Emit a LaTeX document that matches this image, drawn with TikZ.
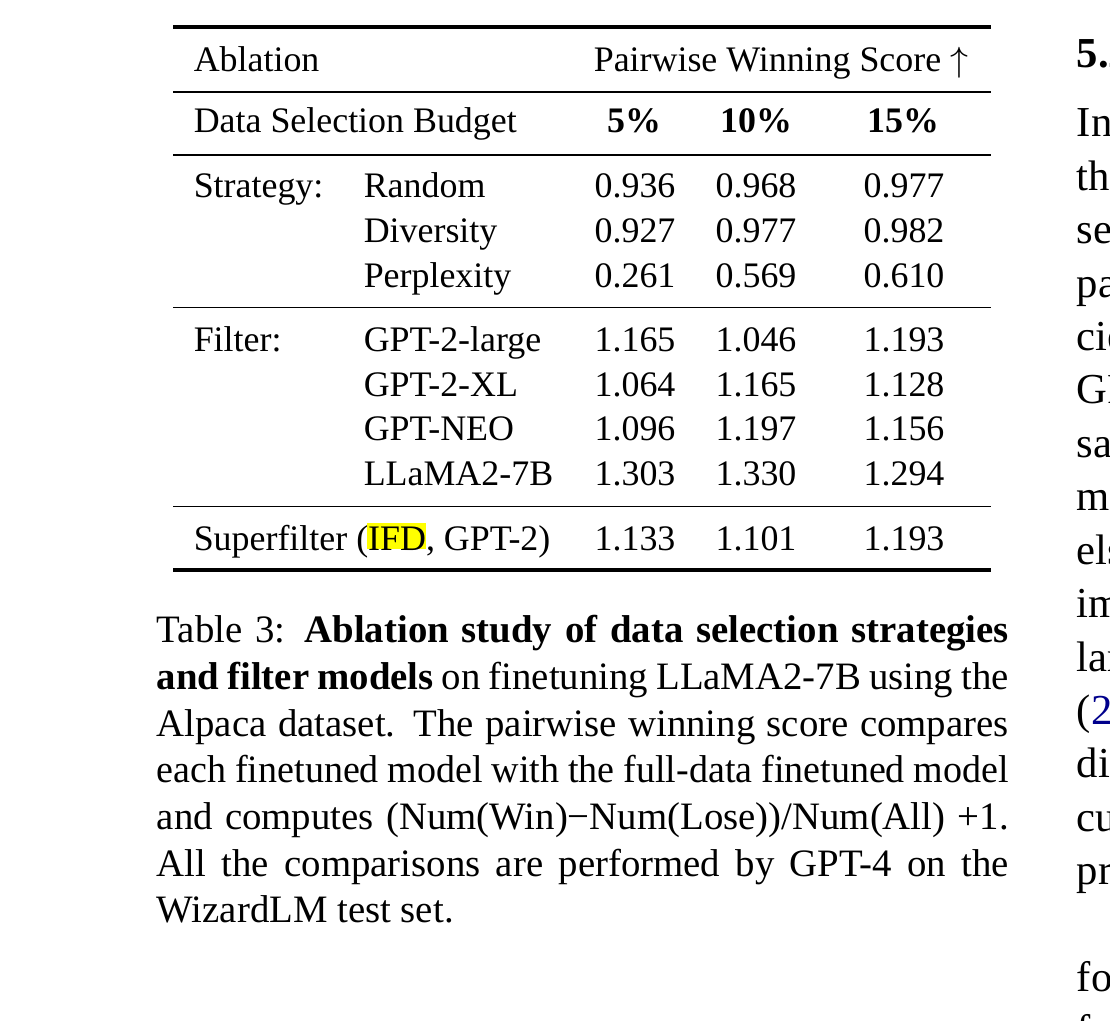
\documentclass[tikz,border=0pt]{standalone}
\usepackage{fontspec}
\setmainfont{Liberation Serif}
\definecolor{citeblue}{rgb}{0,0,0.55}
\definecolor{hlyellow}{rgb}{1,1,0}
\begin{document}
\begin{tikzpicture}[x=0.2577pt,y=-0.2577pt,
  tab/.style={anchor=base west, inner sep=0pt, font=\fontsize{9.25}{11}\selectfont},
  num/.style={anchor=base, inner sep=0pt, font=\fontsize{9.25}{11}\selectfont},
  captext/.style={anchor=base west, inner sep=0pt, font=\fontsize{10}{12}\selectfont},
  body/.style={anchor=base west, inner sep=0pt, font=\fontsize{11}{13.6}\selectfont},
  heavyrule/.style={line width=0.8pt},
  lightrule/.style={line width=0.5pt}]
\useasboundingbox (0,0) rectangle (1110,1021);
\fill[white] (0,0) rectangle (1110,1021);
\clip (0,0) rectangle (1110,1021);

% rules
\coordinate (r1l) at (173,27);    \coordinate (r1r) at (991,27);
\coordinate (r2l) at (173,92);    \coordinate (r2r) at (991,92);
\coordinate (r3l) at (173,155);   \coordinate (r3r) at (991,155);
\coordinate (r4l) at (173,307.5); \coordinate (r4r) at (991,307.5);
\coordinate (r5l) at (173,506.5); \coordinate (r5r) at (991,506.5);
\coordinate (r6l) at (173,570);   \coordinate (r6r) at (991,570);
\draw[heavyrule] (r1l) -- (r1r);
\draw[lightrule] (r2l) -- (r2r);
\draw[lightrule] (r3l) -- (r3r);
\draw[lightrule] (r4l) -- (r4r);
\draw[lightrule] (r5l) -- (r5r);
\draw[heavyrule] (r6l) -- (r6r);

% header
\node[tab] (hAbl) at (193,72) {Ablation};
\node[tab] (hPWS) at (593,72) {Pairwise Winning Score $\uparrow$};
\node[tab] (hBud) at (193,133) {Data Selection Budget};
\node[num] (h5)  at (634,133) {\textbf{5\%}};
\node[num] (h10) at (756,133) {\textbf{10\%}};
\node[num] (h15) at (903,133) {\textbf{15\%}};

% strategy block
\node[tab] (sLab) at (193,198) {Strategy:};
\node[tab] (sR) at (363,198) {Random};
\node[tab] (sD) at (363,243) {Diversity};
\node[tab] (sP) at (363,287.5) {Perplexity};
\node[num] (sR1) at (635,198) {0.936}; \node[num] (sR2) at (756,198) {0.968}; \node[num] (sR3) at (904,198) {0.977};
\node[num] (sD1) at (635,243) {0.927}; \node[num] (sD2) at (756,243) {0.977}; \node[num] (sD3) at (904,243) {0.982};
\node[num] (sP1) at (635,287.5) {0.261}; \node[num] (sP2) at (756,287.5) {0.569}; \node[num] (sP3) at (904,287.5) {0.610};

% filter block
\node[tab] (fLab) at (193,352) {Filter:};
\node[tab] (fA) at (363,352) {GPT-2-large};
\node[tab] (fB) at (363,396.5) {GPT-2-XL};
\node[tab] (fC) at (363,441) {GPT-NEO};
\node[tab] (fD) at (363,485.5) {LLaMA2-7B};
\node[num] (fA1) at (635,352) {1.165}; \node[num] (fA2) at (756,352) {1.046}; \node[num] (fA3) at (904,352) {1.193};
\node[num] (fB1) at (635,396.5) {1.064}; \node[num] (fB2) at (756,396.5) {1.165}; \node[num] (fB3) at (904,396.5) {1.128};
\node[num] (fC1) at (635,441) {1.096}; \node[num] (fC2) at (756,441) {1.197}; \node[num] (fC3) at (904,441) {1.156};
\node[num] (fD1) at (635,485.5) {1.303}; \node[num] (fD2) at (756,485.5) {1.330}; \node[num] (fD3) at (904,485.5) {1.294};

% superfilter row
\fill[hlyellow] (367,523) rectangle (426,549);
\node[tab] (sup) at (193,551) {Superfilter (IFD, GPT-2)};
\node[num] (sup1) at (635,551) {1.133}; \node[num] (sup2) at (756,551) {1.101}; \node[num] (sup3) at (904,551) {1.193};

% caption
\node[captext] (c1) at (156,643) {\makebox[219.56pt][s]{Table 3: \textbf{Ablation study of data selection strategies}}};
\node[captext] (c2) at (156,689.6) {\makebox[219.56pt][s]{\textbf{and filter models} on finetuning LLaMA2-7B using the}};
\node[captext] (c3) at (156,736.2) {\makebox[219.56pt][s]{Alpaca dataset. The pairwise winning score compares}};
\node[captext] (c4) at (156,782.8) {\scalebox{0.98}[1]{\makebox[224.05pt][s]{each finetuned model with the full-data finetuned model}}};
\node[captext] (c5) at (156,829.4) {\makebox[219.56pt][s]{and computes (Num(Win)−Num(Lose))/Num(All) +1.}};
\node[captext] (c6) at (156,876) {\makebox[219.56pt][s]{All the comparisons are performed by GPT-4 on the}};
\node[captext] (c7) at (156,922.6) {WizardLM test set.};

% right column (clipped)
\node[body] (b0) at (1076,68) {\textbf{5.2}};
\node[body] (b1) at (1076,137) {In};
\node[body] (b2) at (1076,190.4) {thi};
\node[body] (b3) at (1076,243.8) {se};
\node[body] (b4) at (1076,297.2) {pa};
\node[body] (b5) at (1076,350.6) {cie};
\node[body] (b6) at (1076,404) {GP};
\node[body] (b7) at (1076,457.4) {sa};
\node[body] (b8) at (1076,510.8) {mo};
\node[body] (b9) at (1076,564.2) {els};
\node[body] (b10) at (1076,617.6) {im};
\node[body] (b11) at (1076,671) {lar};
\node[body] (b12) at (1076,724.4) {(\textcolor{citeblue}{2}};
\node[body] (b13) at (1076,777.8) {dir};
\node[body] (b14) at (1076,831.2) {cu};
\node[body] (b15) at (1076,884.6) {pr};
\node[body] (b16) at (1076,991.4) {fo};
\node[body] (b17) at (1076,1044.8) {f};
\end{tikzpicture}
\end{document}
